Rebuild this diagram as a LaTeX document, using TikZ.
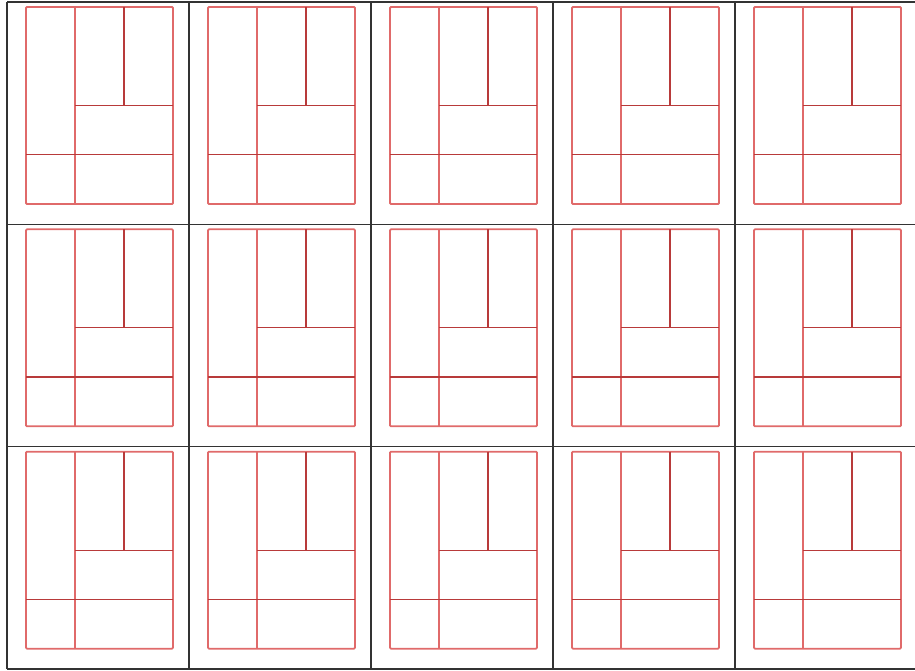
\documentclass[tikz,border=0pt]{standalone}
\usepackage{xcolor}
\usepackage{tikz}

\definecolor{gridline}{HTML}{333333}
\definecolor{paneouter}{HTML}{E06A6A}
\definecolor{paneinner}{HTML}{B83A3A}

\begin{document}
\begin{tikzpicture}[
  x=1pt, y=-1pt,
  cellline/.style={
    draw=gridline,
    line width=1.4pt
  },
  paneframe/.style={
    draw=paneouter,
    line width=1.8pt,
    rounded corners=1pt
  },
  panesplit/.style={
    draw=paneouter,
    line width=1.6pt
  },
  panerule/.style={
    draw=paneinner,
    line width=1.2pt
  }
]

\useasboundingbox (0,0) rectangle (915,671);

% Cell grid
\foreach \i in {0,...,4}
  \draw[cellline] ({7+182*\i},2) coordinate (top\i) -- ({7+182*\i},669) coordinate (bot\i);
\foreach \j in {0,...,3}
  \draw[cellline] (7,{2+222.33*\j}) coordinate (lft\j) -- (915,{2+222.33*\j}) coordinate (rgt\j);

% Panes
\foreach \i in {0,...,4}
  \foreach \j in {0,...,2} {
    \coordinate (o-\i-\j) at ({7+182*\i},{2+222.33*\j});
    \draw[paneframe] ([shift={(19,5)}]o-\i-\j) rectangle ([shift={(166,202)}]o-\i-\j);
    \draw[panesplit] ([shift={(68,5)}]o-\i-\j) -- ([shift={(68,202)}]o-\i-\j);
    \draw[panerule] ([shift={(117,5)}]o-\i-\j) -- ([shift={(117,103.5)}]o-\i-\j);
    \draw[panerule] ([shift={(68,103.5)}]o-\i-\j) -- ([shift={(166,103.5)}]o-\i-\j);
    \draw[panerule] ([shift={(19,152.75)}]o-\i-\j) -- ([shift={(166,152.75)}]o-\i-\j);
  }

\end{tikzpicture}
\end{document}
